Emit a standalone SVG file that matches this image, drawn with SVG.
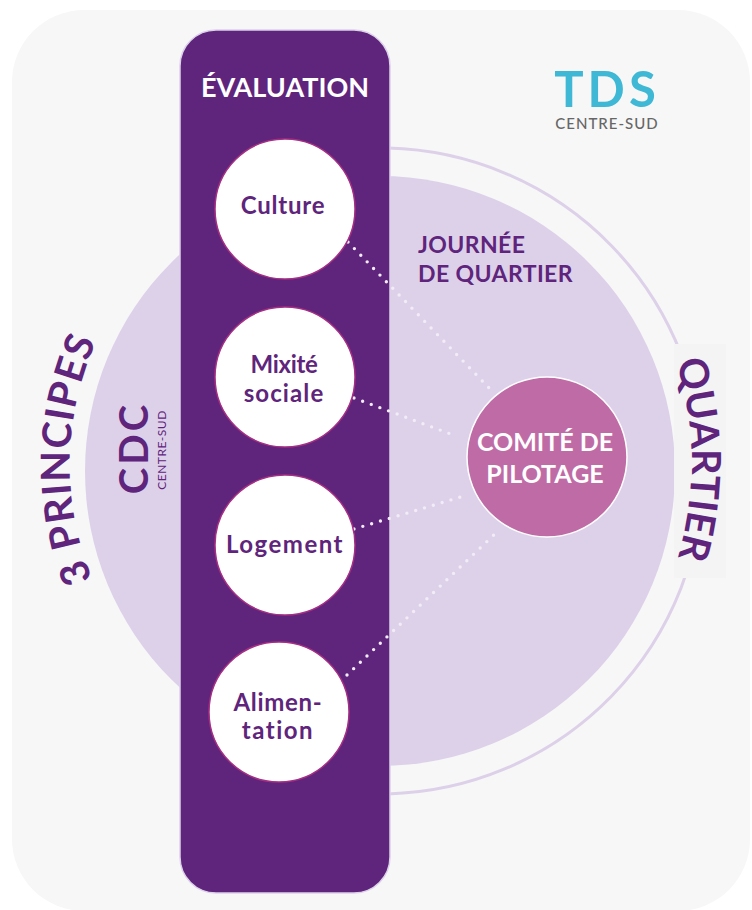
<svg xmlns="http://www.w3.org/2000/svg" width="752" height="910" viewBox="0 0 752 910">
<style>
text{font-family:"Lato","Noto Sans",sans-serif;font-weight:700;text-anchor:middle}
.p{fill:#5f247c}.w{fill:#fff}
.n{font-size:24px}
.dot{fill:none;stroke:#f2ecf6;stroke-width:3.4;stroke-linecap:round;stroke-dasharray:0 9.2}
.c{fill:#fff;stroke:#a62f84;stroke-width:1.5}
</style>
<defs>
<path id="arcL" d="M102 600A300 300 0 0 1 107 320"/>
<path id="arcR" d="M670 343Q712 458 672 576"/>
</defs>
<rect x="12" y="10" width="738" height="901" rx="72" fill="#f7f7f7"/>
<path d="M388 148.100A323 323 0 0 1 388 793.900" fill="none" stroke="#ddd0e9" stroke-width="3"/>
<circle cx="380" cy="471" r="295" fill="#ddd1ea"/>
<rect x="180" y="30" width="210" height="863" rx="36" fill="#5f247c" stroke="#ddd1ea" stroke-width="1.5"/>
<g id="connectors">
<path class="dot" d="M348 242L491 390"/>
<path class="dot" d="M354 398L456 436"/>
<path class="dot" d="M354 529L464 496"/>
<path class="dot" d="M347 675L498 531"/>
</g>
<g id="evaluation"><text class="w" x="285" y="97" font-size="27">ÉVALUATION</text></g>
<g id="culture"><circle class="c" cx="285" cy="209" r="70"/><text class="p n" x="283" y="214" letter-spacing=".8">Culture</text></g>
<g id="mixite"><circle class="c" cx="285" cy="377" r="70"/><text class="p n" x="284" y="373" letter-spacing="-.3">Mixité</text><text class="p n" x="284" y="402" letter-spacing="1.1">sociale</text></g>
<g id="logement"><circle class="c" cx="285" cy="545" r="70"/><text class="p n" x="285" y="553" letter-spacing="1.5">Logement</text></g>
<g id="alimentation"><circle class="c" cx="279" cy="712" r="70"/><text class="p n" x="278" y="711" letter-spacing=".7">Alimen-</text><text class="p n" x="278" y="739" letter-spacing="1.5">tation</text></g>
<g id="comite"><circle cx="547" cy="457" r="80" fill="#bf6ca6" stroke="#fff" stroke-width="1.5"/><text class="w" x="545" y="451" font-size="25">COMITÉ DE</text><text class="w" x="545" y="483" font-size="25">PILOTAGE</text></g>
<g id="journee"><text class="p" x="418" y="253" font-size="23" letter-spacing=".4" style="text-anchor:start">JOURNÉE</text><text class="p" x="418" y="282" font-size="23" letter-spacing=".4" style="text-anchor:start">DE QUARTIER</text></g>
<g id="principes"><text class="p" font-size="40" letter-spacing="1"><textPath href="#arcL" startOffset="50%">3 PRINCIPES</textPath></text></g>
<g id="quartier"><rect x="674" y="344" width="52" height="234" fill="#f4f4f4"/><text class="p" font-size="40"><textPath href="#arcR" startOffset="50%">QUARTIER</textPath></text></g>
<g id="logo-tds"><text x="607" y="107" font-size="49" fill="#3fb8d5" letter-spacing="4">TDS</text><text x="607" y="129" font-size="15" fill="#666" style="font-weight:500" letter-spacing="1">CENTRE-SUD</text></g>
<g id="logo-cdc"><text class="p" transform="translate(148 448) rotate(-90)" font-size="40" letter-spacing="3">CDC</text><text class="p" transform="translate(166 450) rotate(-90)" font-size="12" style="font-weight:400" letter-spacing=".5">CENTRE-SUD</text></g>
</svg>
